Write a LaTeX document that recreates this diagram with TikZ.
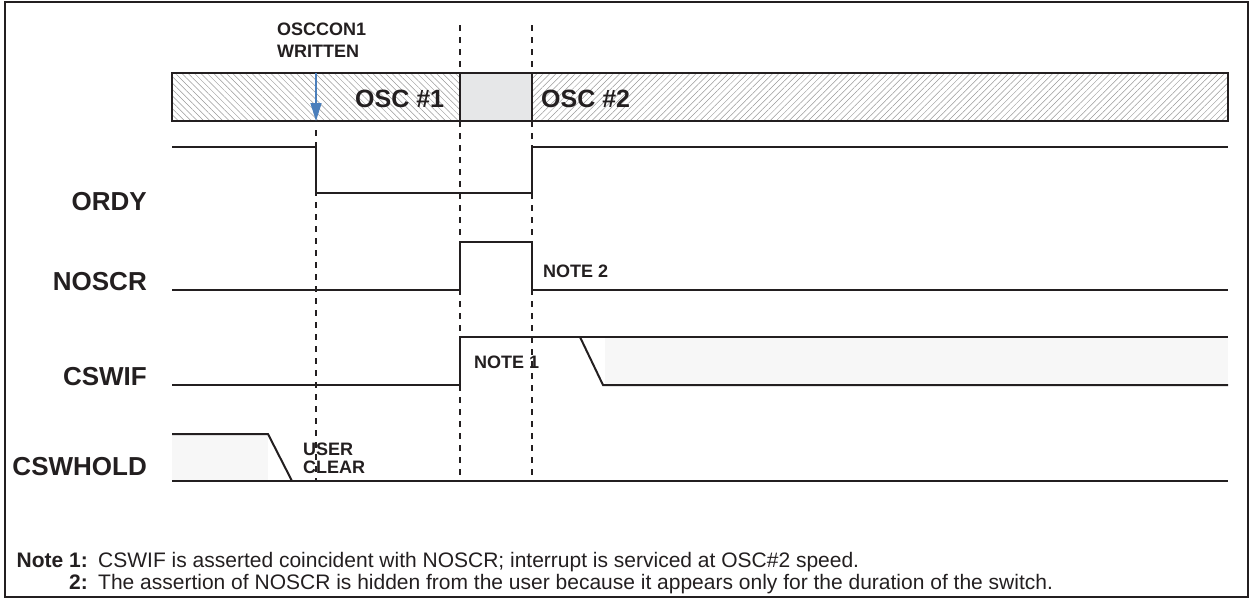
\documentclass[tikz,border=0pt]{standalone}
\usepackage{fontspec}
\setmainfont{Liberation Sans}
\usetikzlibrary{patterns.meta,arrows.meta}
\definecolor{inkc}{HTML}{231F20}
\definecolor{arrowblue}{HTML}{4A7EBB}
\definecolor{midgray}{HTML}{E6E7E8}
\definecolor{lightfill}{HTML}{F7F7F7}
\begin{document}
\begin{tikzpicture}[x=1pt,y=-1pt,
  sig/.style={line width=2pt,line join=miter,color=inkc},
  guide/.style={line width=1.6pt,dash pattern=on 6pt off 6pt,color=inkc},
  siglabel/.style={font=\bfseries\fontsize{26}{30}\selectfont,inner sep=0,anchor=base east,text=inkc},
  smalllabel/.style={font=\bfseries\fontsize{18}{21}\selectfont,inner sep=0,anchor=base west,text=inkc,align=left},
  osclabel/.style={font=\bfseries\fontsize{25}{30}\selectfont,inner sep=0,anchor=base west,text=inkc},
  notehead/.style={font=\bfseries\fontsize{21}{22}\selectfont,inner sep=0,anchor=base east,text=inkc},
  notebody/.style={font=\fontsize{21}{22}\selectfont,inner sep=0,anchor=base west,text=inkc},
  hatchA/.style={pattern={Lines[angle=-45,distance=4.5pt,line width=0.5pt]},pattern color=gray!80},
  hatchB/.style={pattern={Lines[angle=45,distance=4.5pt,line width=0.5pt]},pattern color=gray!80}]
\useasboundingbox (0,0) rectangle (1249,598);
\draw[line width=2pt,color=inkc] (5,2) rectangle (1248,597);

% clock bar
\fill[hatchA] (172,73) rectangle (460,121);
\fill[midgray] (460,73) rectangle (532,121);
\fill[hatchB] (532,73) rectangle (1228,121);
\node[osclabel] (osc1) at (355,107) {OSC \#1};
\node[osclabel] (osc2) at (541,107) {OSC \#2};
\draw[sig] (172,73) rectangle (1228,121);
\draw[sig] (460,73) -- (460,121) (532,73) -- (532,121);

% guides
\draw[guide] (460,25) -- (460,73) (460,121) -- (460,482);
\draw[guide] (532,25) -- (532,73) (532,121) -- (532,482);
\draw[guide] (316,130) -- (316,482);

% arrow
\draw[arrowblue,line width=1.5pt,-{Triangle[length=18pt,width=11pt]}] (316,73) -- (316,121);
\node[smalllabel] (wr) at (277,57) {OSCCON1\\[0.5pt]WRITTEN};

% ORDY
\draw[sig] (172,147) -- (316,147) -- (316,193) -- (532,193) -- (532,147) -- (1228,147);
\node[siglabel] (ordy) at (147,210) {ORDY};

% NOSCR
\draw[sig] (172,290) -- (460,290) -- (460,242) -- (532,242) -- (532,290) -- (1228,290);
\node[siglabel] (noscr) at (147,290) {NOSCR};
\node[smalllabel] (note2) at (543,277) {NOTE 2};

% CSWIF
\fill[lightfill] (605,337) rectangle (1228,385);
\draw[sig] (172,385) -- (460,385) -- (460,337) -- (1228,337);
\draw[sig] (580,337) -- (603,385) -- (1228,385);
\node[siglabel] (cswif) at (147,385) {CSWIF};
\node[smalllabel] (note1) at (474,368) {NOTE 1};

% CSWHOLD
\fill[lightfill] (172,434) rectangle (268,481);
\draw[sig] (172,434) -- (268,434) -- (292,481);
\draw[sig] (172,481) -- (1228,481);
\node[siglabel] (cswhold) at (147,475) {CSWHOLD};
\node[smalllabel] (uc) at (303,473) {USER\\[-3pt]CLEAR};

% notes
\node[notehead] (nh1) at (88,567) {Note 1:};
\node[notebody] (nb1) at (98,567) {CSWIF is asserted coincident with NOSCR; interrupt is serviced at OSC\#2 speed.};
\node[notehead] (nh2) at (88,589) {2:};
\node[notebody] (nb2) at (98,589) {The assertion of NOSCR is hidden from the user because it appears only for the duration of the switch.};
\end{tikzpicture}
\end{document}
